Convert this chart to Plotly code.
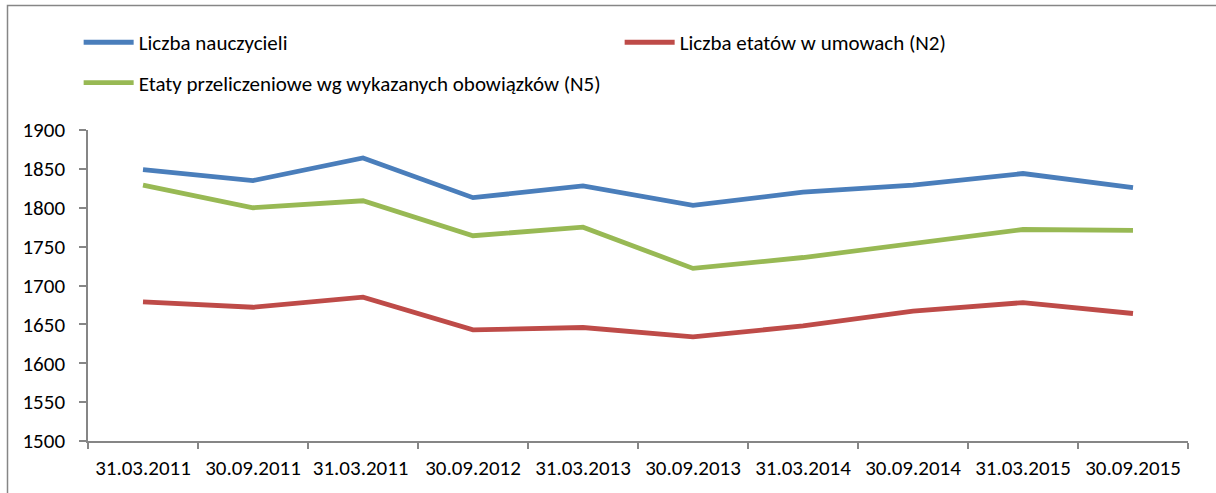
import plotly.graph_objects as go

categories = ["31.03.2011", "30.09.2011", "31.03.2011 ", "30.09.2012", "31.03.2013",
              "30.09.2013", "31.03.2014", "30.09.2014", "31.03.2015", "30.09.2015"]
nauczyciele = [1849, 1835, 1864, 1813, 1828, 1803, 1820, 1829, 1844, 1826]
etaty_n2 = [1679, 1672, 1685, 1643, 1646, 1634, 1648, 1667, 1678, 1664]
etaty_n5 = [1829, 1800, 1809, 1764, 1775, 1722, 1736, 1754, 1772, 1771]

series_names = ["Liczba nauczycieli", "Liczba etatów w umowach (N2)",
                "Etaty przeliczeniowe wg wykazanych obowiązków (N5)"]
colors = ["#4A7EBB", "#BE4B48", "#98B954"]
legend_ids = ["legend", "legend", "legend2"]

FONT = "Carlito, Calibri, Lato, 'Liberation Sans', sans-serif"
FS = 21

fig = go.Figure()
for name, vals, col, lg in zip(series_names, [nauczyciele, etaty_n2, etaty_n5], colors, legend_ids):
    fig.add_trace(go.Scatter(x=categories, y=vals, mode="lines", name=name,
                             line=dict(color=col, width=4.8), legend=lg))

leg_common = dict(xanchor="left", yanchor="middle", bgcolor="rgba(0,0,0,0)",
                  font=dict(family=FONT, size=FS, color="black"), itemwidth=50,
                  borderwidth=0)

fig.update_layout(
    width=1216, height=493,
    margin=dict(l=88, r=28, t=130, b=52),
    paper_bgcolor="white", plot_bgcolor="white",
    font=dict(family=FONT, size=FS, color="black"),
    showlegend=True,
    legend=dict(orientation="h", x=-0.0085, y=1.281, entrywidth=476,
                entrywidthmode="pixels", **leg_common),
    legend2=dict(orientation="h", x=-0.0085, y=1.151, **leg_common),
    xaxis=dict(type="category", showgrid=False, showline=True, linecolor="#868686",
               linewidth=1.5, ticks="outside", tickson="boundaries", ticklen=6,
               tickcolor="#868686", tickwidth=1.5, range=[-0.5, 9.5],
               ticklabelstandoff=7, tickfont=dict(family=FONT, size=FS)),
    yaxis=dict(range=[1500, 1900], dtick=50, showgrid=False, showline=True,
               linecolor="#868686", linewidth=1.5, ticks="outside", ticklen=7,
               tickcolor="#868686", tickwidth=1.5, zeroline=False,
               ticklabelstandoff=10, tickfont=dict(family=FONT, size=FS)),
    shapes=[dict(type="rect", xref="paper", yref="paper",
                 x0=(7.5 - 88) / 1100, x1=1.2, y0=-0.3, y1=1 + (130 - 5.5) / 311,
                 line=dict(color="#868686", width=1.5), fillcolor="rgba(0,0,0,0)",
                 layer="below")],
)

fig.write_html("out.html", config={"displayModeBar": False},
               post_script="document.body.style.margin='0';")
